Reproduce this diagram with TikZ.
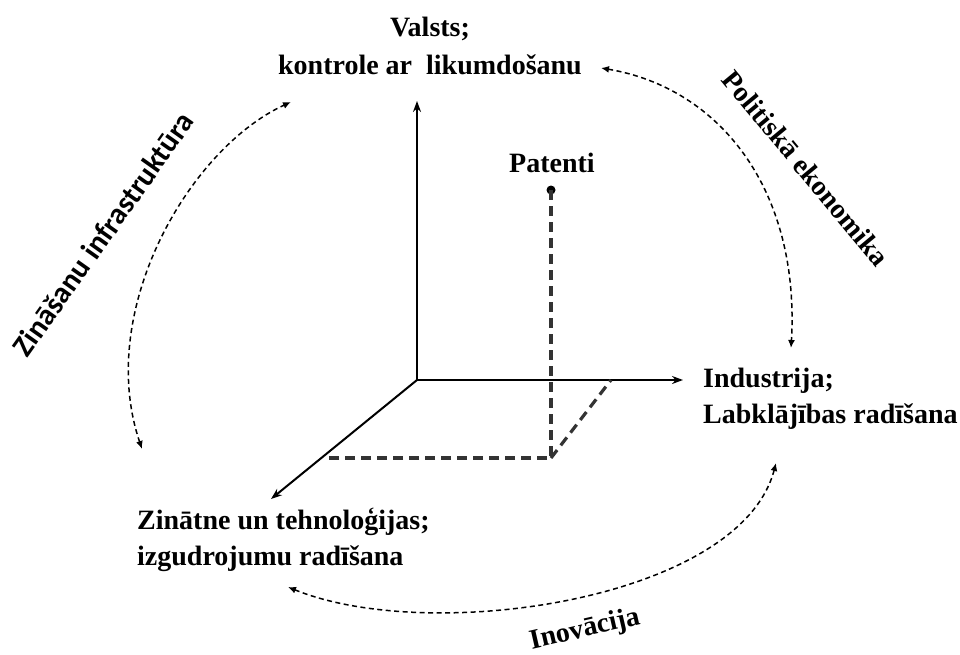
\documentclass[tikz,border=0pt]{standalone}
\usepackage{fontspec}
\setmainfont{Liberation Serif}
\newfontfamily\sidefont{Carlito}
\usetikzlibrary{arrows.meta}

\begin{document}
\begin{tikzpicture}[x=1pt,y=-1pt,
  lbl/.style={font=\fontsize{28}{36}\selectfont\bfseries, inner sep=0pt},
  sidelbl/.style={font=\fontsize{30}{34}\sidefont\bfseries, inner sep=0pt},
  axis/.style={line width=2pt, -{Stealth[length=11pt,width=8pt]}},
  proj/.style={line width=3.2pt, draw=black!80, dash pattern=on 10pt off 6pt},
  flow/.style={line width=1.5pt, dash pattern=on 5pt off 3.5pt,
    {Latex[length=8pt,width=7pt]}-{Latex[length=8pt,width=7pt]}}]

  % canvas
  \path[use as bounding box, fill=white] (0,0) rectangle (960,655);

  % axis origin and free axis ends
  \coordinate (O) at (417,380);
  \coordinate (vtop) at (417,101);
  \coordinate (hend) at (683,380);
  \coordinate (dend) at (271,499);

  % axis labels (anchored at the baseline of their last line)
  \node[lbl, align=center, anchor=base] (valsts) at (430,75)
    {Valsts;\\[2pt]kontrole ar\ \ likumdošanu};
  \node[lbl, align=left, anchor=base west] (industrija) at (703,423)
    {Industrija;\\Labklājības radīšana};
  \node[lbl, align=left, anchor=base west] (zinatne) at (137,565)
    {Zinātne un tehnoloģijas;\\izgudrojumu radīšana};

  % axes
  \draw[axis] (O) -- (vtop);
  \draw[axis] (O) -- (hend);
  \draw[axis] (O) -- (dend);

  % the point "Patenti" and its projections
  \node[circle, fill=black, inner sep=0pt, minimum size=9pt] (pdot) at (551,190) {};
  \node[lbl, anchor=base] (patenti) at (552,173) {Patenti};
  \coordinate (pfoot) at (551,458);
  \coordinate (pz) at (324,458);
  \coordinate (px) at (611,380);
  \draw[proj] (pdot.center) -- (pfoot) -- (pz);
  \draw[proj] (pfoot) -- (px);

  % ends of the relation curves
  \coordinate (la) at (291,102);
  \coordinate (lb) at (142,449);
  \coordinate (ra) at (601,68);
  \coordinate (rb) at (791,348);
  \coordinate (ba) at (776,463);
  \coordinate (bb) at (288,587);

  % relation curves
  \draw[flow] (lb) .. controls (95,310) and (190,148) .. (la);
  \draw[flow] (ra) .. controls (720,88) and (800,190) .. (rb);
  \draw[flow] (ba) .. controls (740,600) and (430,645) .. (bb);

  % curve labels
  \node[sidelbl, rotate=54.7] (infra) at (103,234) {Zināšanu infrastruktūra};
  \node[lbl, rotate=-50.3] (polit) at (806,168) {Politiskā ekonomika};
  \node[lbl, rotate=13] (inov) at (585,630) {Inovācija};
\end{tikzpicture}
\end{document}
